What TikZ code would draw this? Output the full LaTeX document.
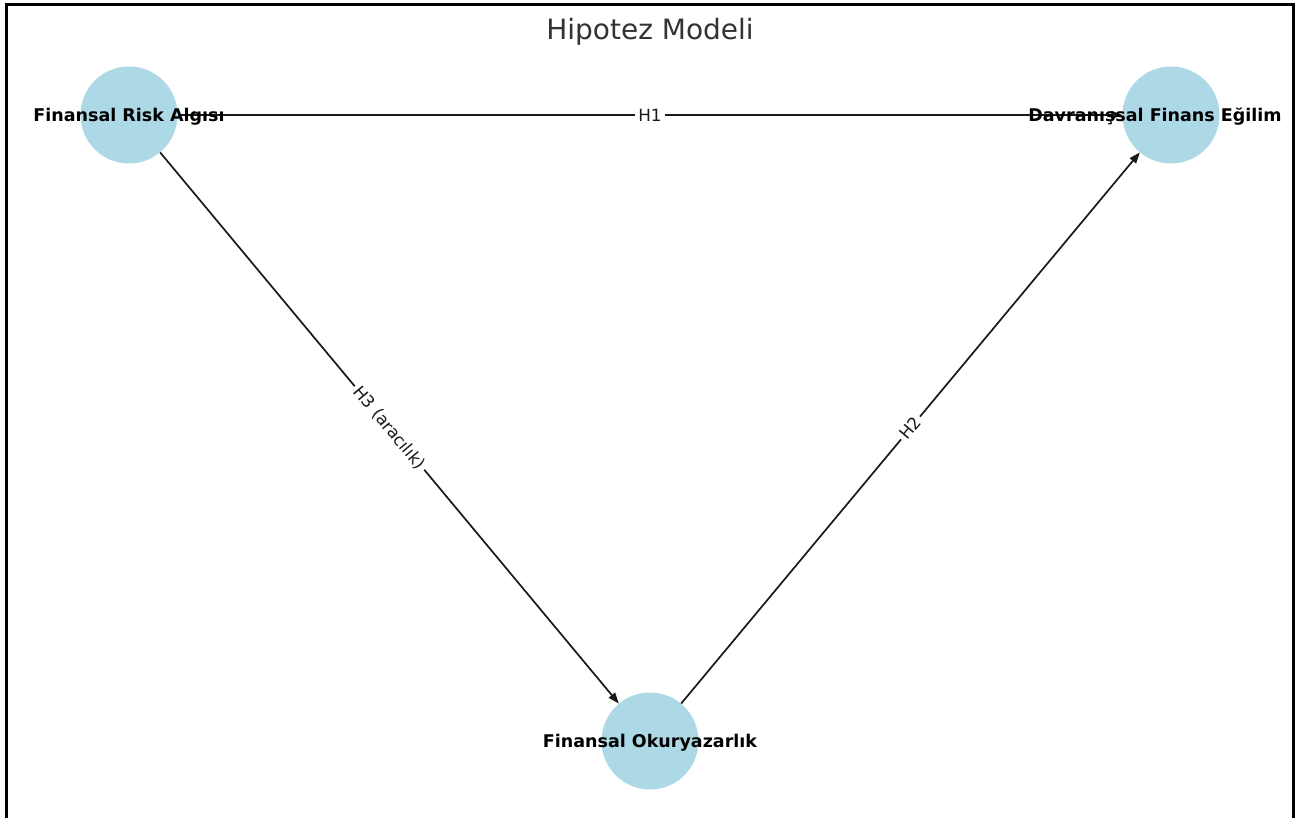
\documentclass[tikz,border=0pt]{standalone}
\usepackage{fontspec}
\newfontfamily\djv{DejaVu Sans}
\usetikzlibrary{arrows.meta}
\definecolor{nodeblue}{HTML}{ADD8E6}
\definecolor{titlegray}{HTML}{333333}
\tikzset{
  vertex/.style={circle, fill=nodeblue, minimum size=97pt, inner sep=0pt},
  vlabel/.style={font=\djv\bfseries\fontsize{17.5}{20}\selectfont, text=black, inner sep=0pt, yshift=-1.5pt},
  conn/.style={draw=black!90, line width=1.7pt, -{Triangle[length=11pt,width=8pt]}},
  elabel/.style={font=\djv\fontsize{16.8}{19}\selectfont, fill=white, inner sep=3pt, text=black!90}
}
\begin{document}
\begin{tikzpicture}[x=1pt,y=-1pt]
\useasboundingbox (0,0) rectangle (1296,818);
\fill[white] (0,0) rectangle (1296,818);
\draw[line width=2.6pt, black] (6.5,830) -- (6.5,4.5) -- (1293.5,4.5) -- (1293.5,830);
\node[font=\djv\fontsize{28}{32}\selectfont, text=titlegray] (title) at (650,32) {Hipotez Modeli};
\node[vertex] (A) at (129,115) {};
\node[vertex] (B) at (1171,115) {};
\node[vertex] (C) at (650,741) {};
\draw[conn] (A) -- node[elabel] (h1) {H1} (B);
\draw[conn] (C) -- node[elabel, sloped] (h2) {H2} (B);
\draw[conn] (A) -- node[elabel, sloped] (h3) {H3 (aracılık)} (C);
\node[vlabel] (Alab) at (A.center) {Finansal Risk Algısı};
\node[vlabel, xshift=-16pt] (Blab) at (B.center) {Davranışsal Finans Eğilim};
\node[vlabel] (Clab) at (C.center) {Finansal Okuryazarlık};
\end{tikzpicture}
\end{document}
